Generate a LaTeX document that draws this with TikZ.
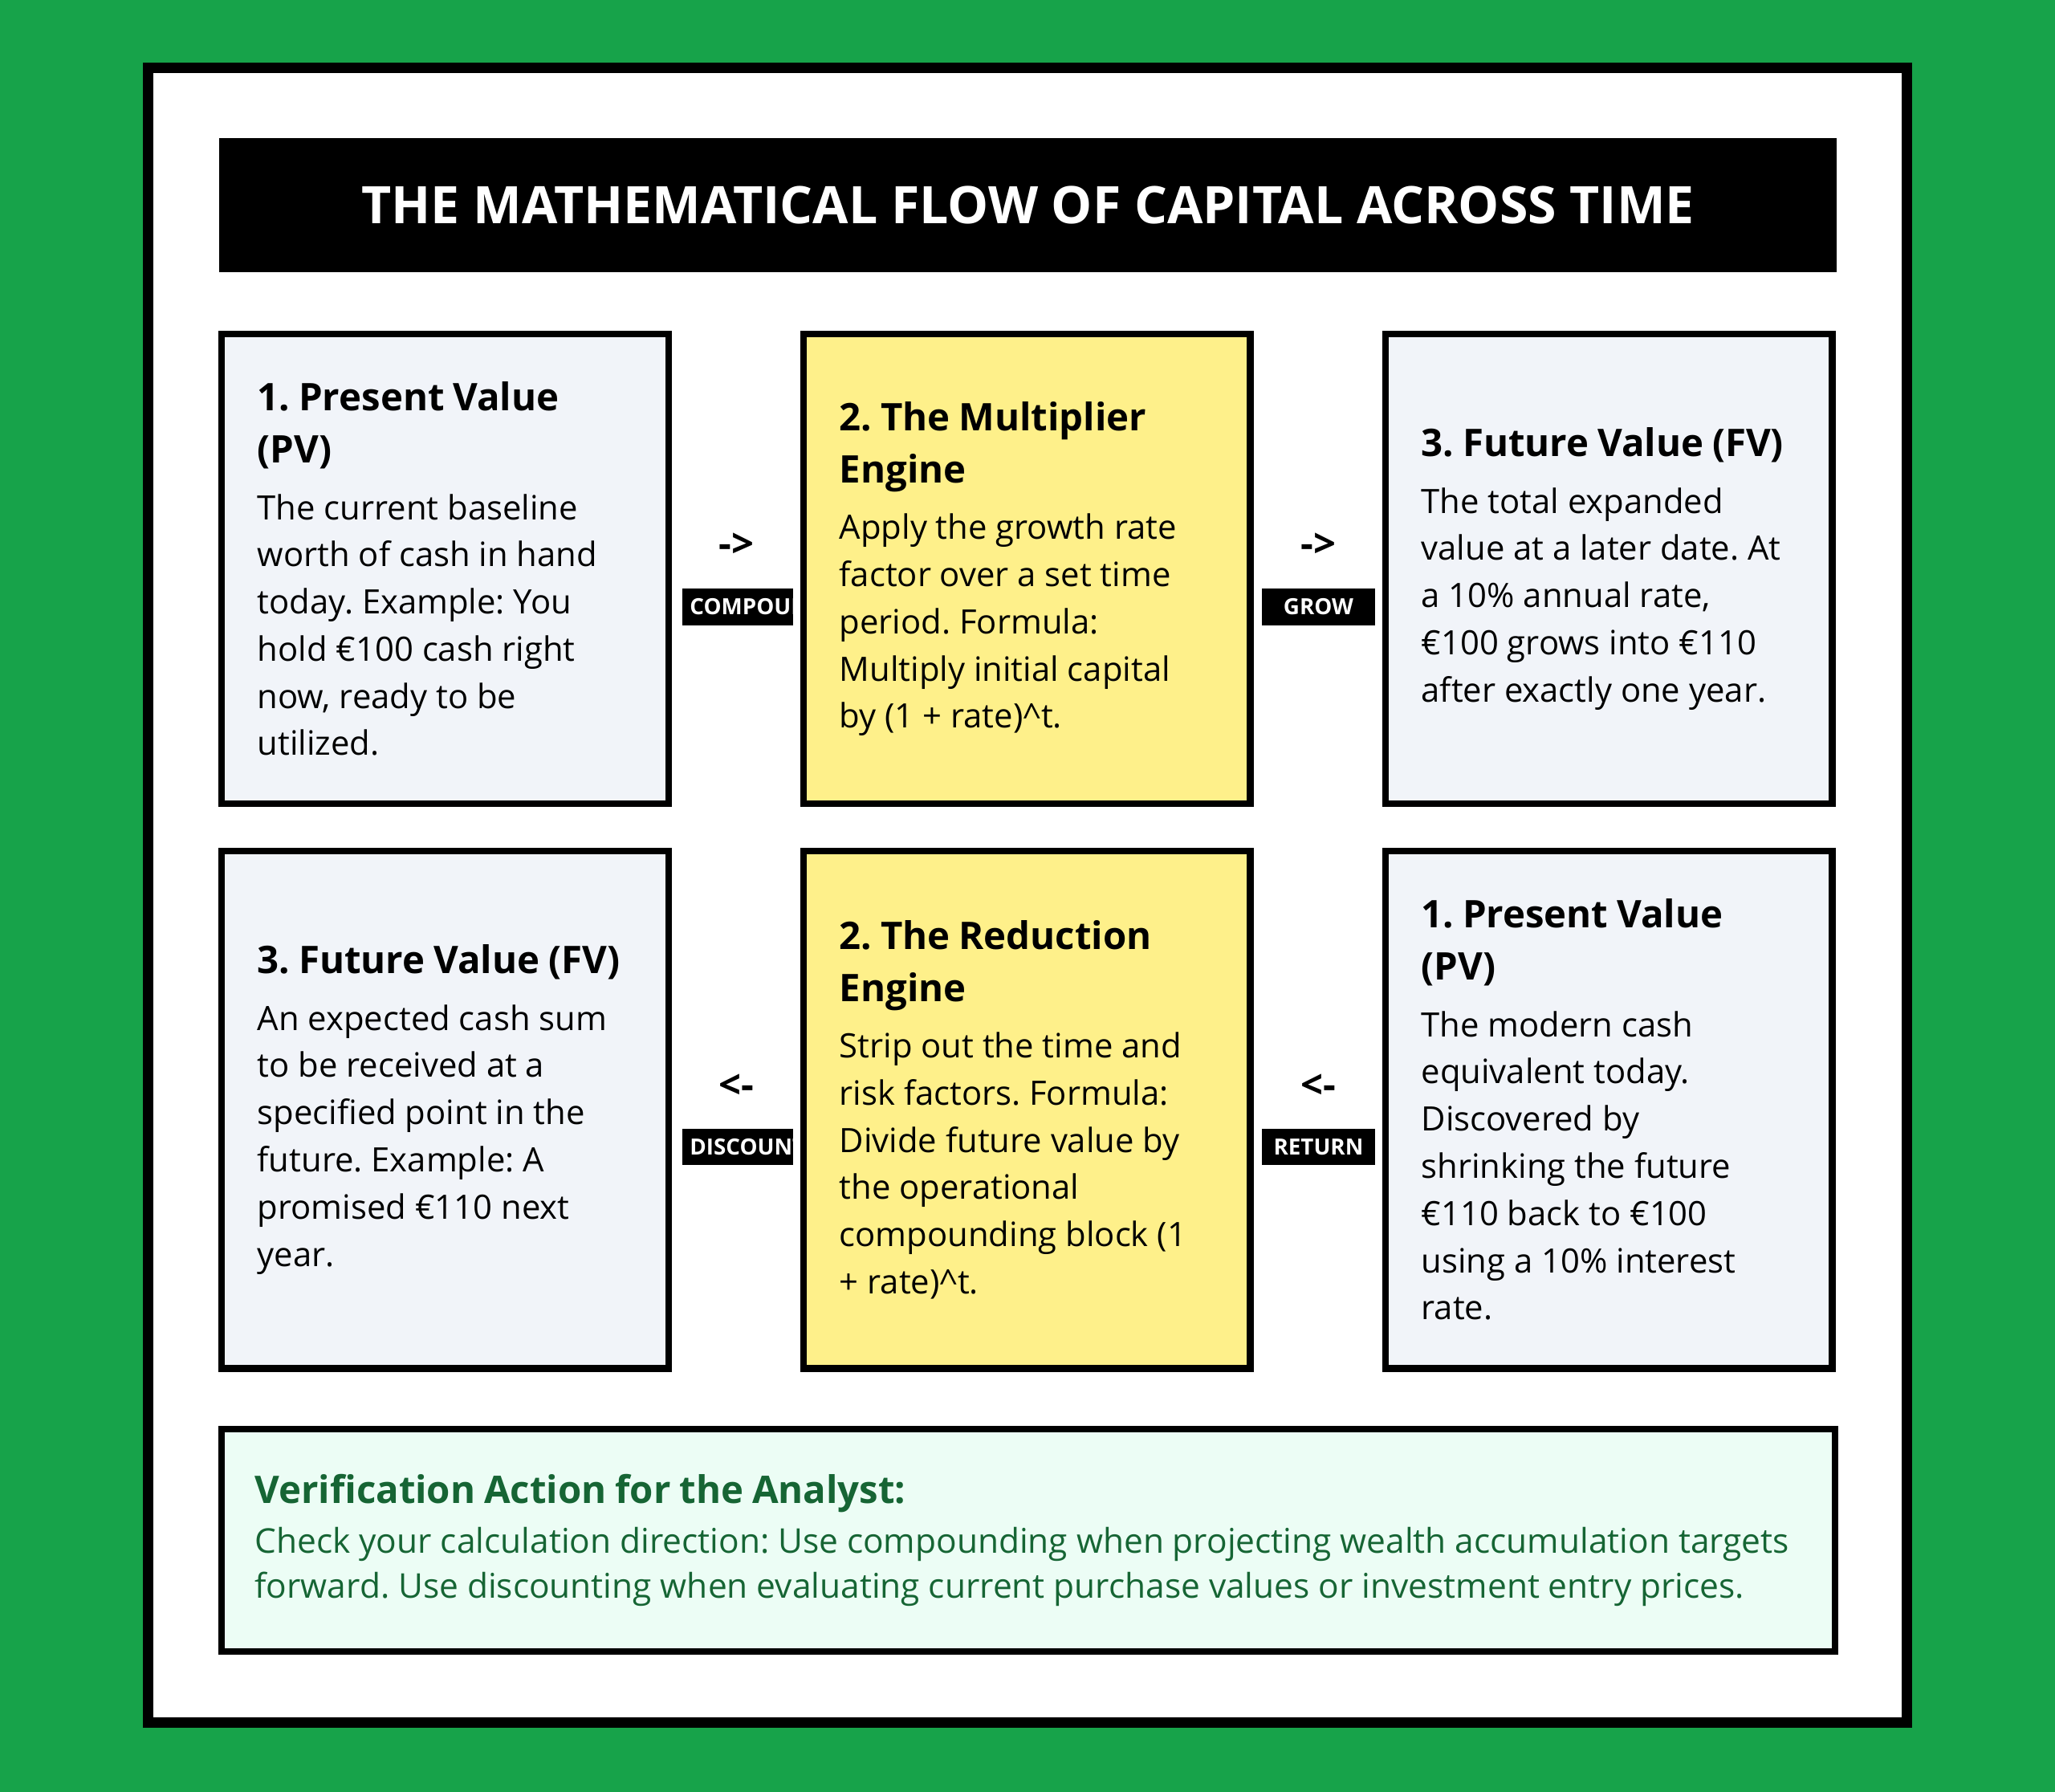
\documentclass[tikz,border=0pt]{standalone}
\usepackage{fontspec}
\setmainfont{Open Sans}
\begin{document}
\frenchspacing
\begin{tikzpicture}[x=0.5pt,y=-0.5pt,
 box/.style={draw=black,line width=2.5pt,minimum width=170.5pt,inner sep=0pt,anchor=north west,text width=143pt,align=left},
 gray/.style={box,fill=boxgray},
 yel/.style={box,fill=boxyel},
 lbl/.style={fill=black,text=white,font=\fontsize{8.5}{10}\selectfont\bfseries,inner sep=0pt,minimum height=14pt},
 arr/.style={font=\fontsize{15}{18}\selectfont\bfseries}]
\definecolor{bg}{HTML}{17A34A}
\definecolor{boxgray}{HTML}{F1F4F9}
\definecolor{boxyel}{HTML}{FEF08A}
\definecolor{mint}{HTML}{ECFDF5}
\definecolor{dgreen}{HTML}{166534}
\newcommand{\bt}[1]{{\fontsize{14.5}{20}\selectfont\bfseries #1\par}\vspace{3.5pt}}
\newcommand{\bd}[1]{{\fontsize{12.8}{18}\selectfont #1\par}}
\fill[bg] (0,0) rectangle (1568,1367);
\useasboundingbox (0,0) rectangle (1568,1367);
\draw[line width=4pt,fill=white] (113,52) rectangle (1455,1314);
\node[fill=black,minimum width=617pt,minimum height=51pt,anchor=north west,inner sep=0pt,text=white,font=\fontsize{19.7}{22}\selectfont\bfseries] (title) at (167,105) {THE MATHEMATICAL FLOW OF CAPITAL ACROSS TIME};
% row 1
\node[gray,minimum height=179pt] (pv1) at (166.5,252.5) {\bt{1. Present Value\\(PV)}\bd{The current baseline\\worth of cash in hand\\today. Example: You\\hold €100 cash right\\now, ready to be\\utilized.}};
\node[yel,minimum height=179pt] (mul) at (610.5,252.5) {\bt{2. The Multiplier\\Engine}\bd{Apply the growth rate\\factor over a set time\\period. Formula:\\Multiply initial capital\\by (1 + rate)\^{}t.}};
\node[gray,minimum height=179pt] (fv1) at (1054.5,252.5) {\bt{3. Future Value (FV)}\bd{The total expanded\\value at a later date. At\\a 10\% annual rate,\\€100 grows into €110\\after exactly one year.}};
% row 2
\node[gray,minimum height=197.5pt] (fv2) at (166.5,646.5) {\bt{3. Future Value (FV)}\bd{An expected cash sum\\to be received at a\\specified point in the\\future. Example: A\\promised €110 next\\year.}};
\node[yel,minimum height=197.5pt] (red) at (610.5,646.5) {\bt{2. The Reduction\\Engine}\bd{Strip out the time and\\risk factors. Formula:\\Divide future value by\\the operational\\compounding block (1\\+ rate)\^{}t.}};
\node[gray,minimum height=197.5pt] (pv2) at (1054.5,646.5) {\bt{1. Present Value\\(PV)}\bd{The modern cash\\equivalent today.\\Discovered by\\shrinking the future\\€110 back to €100\\using a 10\% interest\\rate.}};
% connectors
\node[arr] (a1) at (562,416) {->};
\begin{scope}\clip (520,449) rectangle (605,477);
\node[lbl,anchor=west,inner xsep=3pt] (l1) at (520,463) {COMPOUNDING};\end{scope}
\node[arr] (a2) at (1006,416) {->};
\node[lbl,minimum width=43pt] (l2) at (1006,463) {GROW};
\node[arr] (a3) at (562,829) {<-};
\begin{scope}\clip (520,861) rectangle (605,889);
\node[lbl,anchor=west,inner xsep=3pt] (l3) at (520,875) {DISCOUNTING};\end{scope}
\node[arr] (a4) at (1006,829) {<-};
\node[lbl,minimum width=43pt] (l4) at (1006,875) {RETURN};
% bottom
\node[draw=black,line width=2.5pt,fill=mint,anchor=north west,minimum width=615.5pt,minimum height=85pt,inner sep=0pt,text width=590pt,align=left,text=dgreen] (ver) at (166.5,1087.5) {{\fontsize{14.5}{20}\selectfont\bfseries Verification Action for the Analyst:\par}\vspace{2pt}{\fontsize{13}{17}\selectfont Check your calculation direction: Use compounding when projecting wealth accumulation targets\\forward. Use discounting when evaluating current purchase values or investment entry prices.\par}};
\end{tikzpicture}
\end{document}
